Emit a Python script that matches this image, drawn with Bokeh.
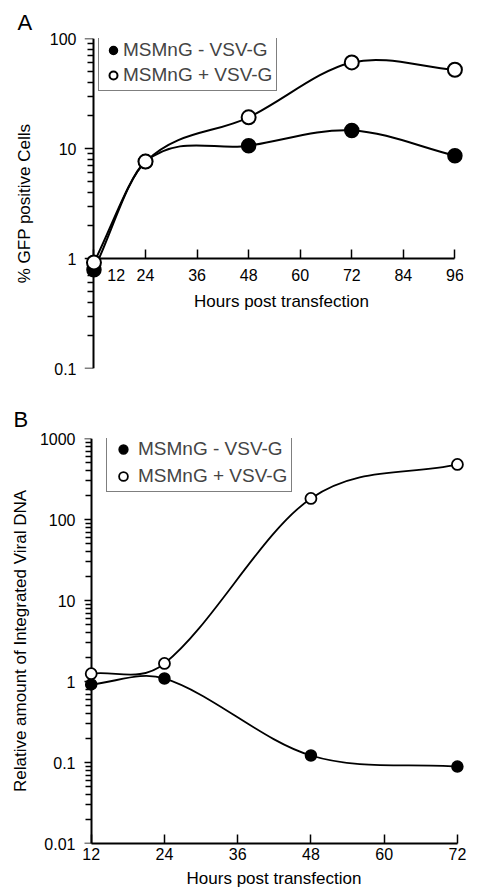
import numpy as np
from bokeh.plotting import figure
from bokeh.models import Range1d, FixedTicker, Legend, LegendItem, Label, LogAxis
from bokeh.layouts import column
from bokeh.embed import file_html
from bokeh.resources import INLINE

# ---------------- data ----------------
hours_A = [12, 24, 48, 72, 96]
gfp_minus = [0.79, 7.6, 10.6, 14.6, 8.6]
gfp_plus = [0.92, 7.6, 19.2, 60.6, 52.0]

hours_B = [12, 24, 48, 72]
dna_minus = [0.92, 1.09, 0.122, 0.089]
dna_plus = [1.25, 1.67, 182.0, 478.0]

series_labels = ["MSMnG - VSV-G", "MSMnG + VSV-G"]
x_ticks_A = [12, 24, 36, 48, 60, 72, 84, 96]
x_labels_A = ["12", "24", "36", "48", "60", "72", "84", "96"]
x_ticks_B = [12, 24, 36, 48, 60, 72]
x_labels_B = ["12", "24", "36", "48", "60", "72"]
y_ticks_A = [0.1, 1, 10, 100]
y_labels_A = ["0.1", "1", "10", "100"]
y_ticks_B = [0.01, 0.1, 1, 10, 100, 1000]
y_labels_B = ["0.01", "0.1", "1", "10", "100", "1000"]
x_title = "Hours post transfection"
y_title_A = "% GFP positive Cells"
y_title_B = "Relative amount of Integrated Viral DNA"
panel_letters = ["A", "B"]

FONT = "Liberation Sans"


def bezier_segments(xs, ys):
    """Smooth connecting curve (cubic Hermite in x / log10 y) as Bezier segments."""
    lx = np.asarray(xs, float)
    ly = np.log10(np.asarray(ys, float))
    n = len(lx)
    m = np.empty(n)
    m[0] = (ly[1] - ly[0]) / (lx[1] - lx[0])
    m[-1] = (ly[-1] - ly[-2]) / (lx[-1] - lx[-2])
    m[1:-1] = (ly[2:] - ly[:-2]) / (lx[2:] - lx[:-2])
    h = np.diff(lx)
    return dict(
        x0=lx[:-1], y0=np.asarray(ys[:-1], float),
        x1=lx[1:], y1=np.asarray(ys[1:], float),
        cx0=lx[:-1] + h / 3, cy0=10 ** (ly[:-1] + m[:-1] * h / 3),
        cx1=lx[1:] - h / 3, cy1=10 ** (ly[1:] - m[1:] * h / 3),
    )


def minor_log(lo_exp, hi_exp):
    return [m * 10.0 ** e for e in range(lo_exp, hi_exp) for m in range(2, 10)]


def style_axis(ax):
    ax.axis_line_width = 2
    ax.axis_line_color = "black"
    ax.major_tick_line_width = 1.5
    ax.minor_tick_line_width = 1.5
    ax.major_tick_line_color = "black"
    ax.minor_tick_line_color = "black"
    ax.major_label_text_font = FONT
    ax.major_label_text_font_size = "16px"
    ax.major_label_text_color = "black"
    ax.axis_label_text_font = FONT
    ax.axis_label_text_font_size = "17px"
    ax.axis_label_text_font_style = "normal"
    ax.axis_label_text_color = "black"


def style_common(p, letter, offset):
    p.outline_line_color = None
    p.xgrid.visible = False
    p.ygrid.visible = False
    p.background_fill_color = "white"
    p.border_fill_color = "white"
    style_axis(p.xaxis[0])
    style_axis(p.yaxis[0])
    p.title.text = letter
    p.title.align = "left"
    p.title.offset = offset
    p.title.text_font = FONT
    p.title.text_font_size = "22px"
    p.title.text_font_style = "normal"
    p.title.text_color = "black"


def setup_y(p, ticks, labels, lo_exp, hi_exp, title, at_x, standoff, title_standoff):
    # label-only axis on the left (texts)
    ya = p.yaxis[0]
    ya.ticker = FixedTicker(ticks=ticks, minor_ticks=minor_log(lo_exp, hi_exp))
    ya.major_label_overrides = dict(zip(ticks, labels))
    ya.axis_line_color = None
    ya.major_tick_line_color = None
    ya.minor_tick_line_color = None
    ya.major_tick_out = 0
    ya.major_tick_in = 0
    ya.minor_tick_out = 0
    ya.minor_tick_in = 0
    ya.major_label_standoff = standoff
    ya.axis_label = title
    ya.axis_label_standoff = title_standoff
    # line + ticks axis placed at the first hour
    tick_ax = LogAxis(ticker=FixedTicker(ticks=ticks, minor_ticks=minor_log(lo_exp, hi_exp)),
                      fixed_location=at_x, bounds=(ticks[0], ticks[-1]),
                      major_label_overrides={t: "" for t in ticks})
    style_axis(tick_ax)
    tick_ax.major_tick_in = 9
    tick_ax.major_tick_out = 0
    tick_ax.minor_tick_in = 6
    tick_ax.minor_tick_out = 0
    p.add_layout(tick_ax, "right")


# ---------------- panel A ----------------
pA = figure(width=501, height=396, y_axis_type="log",
            x_range=Range1d(9.8, 98), y_range=Range1d(0.1, 100),
            output_backend="svg", toolbar_location=None,
            min_border_left=80, min_border_right=38,
            min_border_top=38, min_border_bottom=28)
style_common(pA, panel_letters[0], -67)
pA.title.standoff = 7

xa = pA.xaxis[0]
xa.fixed_location = 1
xa.bounds = (12, 96)
xa.ticker = FixedTicker(ticks=x_ticks_A)
ov = dict(zip(x_ticks_A, x_labels_A))
ov[x_ticks_A[0]] = "\u2007" * 5 + x_labels_A[0]
xa.major_label_overrides = ov
xa.major_tick_in = 9
xa.major_tick_out = 0
xa.minor_tick_in = 0
xa.minor_tick_out = 0
xa.major_label_standoff = 8

# x-axis title of panel A sits just under the axis drawn at y = 1
pA.add_layout(Label(x=197, y=67, x_units="screen", y_units="screen", text=x_title,
                    text_font=FONT, text_font_size="17px", text_color="black",
                    text_align="center", text_baseline="middle"))

setup_y(pA, y_ticks_A, y_labels_A, -1, 2, y_title_A, hours_A[0], 8, 13)

pA.bezier(line_color="black", line_width=2, **bezier_segments(hours_A, gfp_minus))
pA.bezier(line_color="black", line_width=2, **bezier_segments(hours_A, gfp_plus))
rA1 = pA.scatter(hours_A, gfp_minus, size=14, marker="circle",
                 fill_color="black", line_color="black", line_width=1.5, level="overlay")
rA2 = pA.scatter(hours_A, gfp_plus, size=14, marker="circle",
                 fill_color="white", line_color="black", line_width=2, level="overlay")

legA = Legend(items=[LegendItem(label=series_labels[0], renderers=[rA1]),
                     LegendItem(label=series_labels[1], renderers=[rA2])],
              location=(14, 277), padding=4, spacing=3, margin=0,
              glyph_width=20, glyph_height=20, label_standoff=0,
              label_text_font=FONT, label_text_font_size="19px",
              border_line_color="black", border_line_width=1.5,
              background_fill_color="white", background_fill_alpha=1)
pA.add_layout(legA)

# ---------------- panel B ----------------
pB = figure(width=501, height=495, y_axis_type="log",
            x_range=Range1d(10.9, 73), y_range=Range1d(0.01, 1000),
            output_backend="svg", toolbar_location=None,
            min_border_left=84, min_border_right=3,
            min_border_top=42, min_border_bottom=48)
style_common(pB, panel_letters[1], -71)
pB.title.standoff = 14

xb = pB.xaxis[0]
xb.bounds = (12, 72)
xb.ticker = FixedTicker(ticks=x_ticks_B)
xb.major_label_overrides = dict(zip(x_ticks_B, x_labels_B))
xb.major_tick_in = 9
xb.major_tick_out = 0
xb.minor_tick_in = 0
xb.minor_tick_out = 0
xb.major_label_standoff = 4
xb.axis_label = x_title
xb.axis_label_standoff = 6

setup_y(pB, y_ticks_B, y_labels_B, -2, 3, y_title_B, hours_B[0], 9, 7)

pB.bezier(line_color="black", line_width=1.8, **bezier_segments(hours_B, dna_minus))
pB.bezier(line_color="black", line_width=1.8, **bezier_segments(hours_B, dna_plus))
rB1 = pB.scatter(hours_B, dna_minus, size=11, marker="circle",
                 fill_color="black", line_color="black", line_width=1.5, level="overlay")
rB2 = pB.scatter(hours_B, dna_plus, size=11, marker="circle",
                 fill_color="white", line_color="black", line_width=1.8, level="overlay")

legB = Legend(items=[LegendItem(label=series_labels[0], renderers=[rB1]),
                     LegendItem(label=series_labels[1], renderers=[rB2])],
              location=(22, 351), padding=4, spacing=5, margin=0,
              glyph_width=24, glyph_height=22, label_standoff=3,
              label_text_font=FONT, label_text_font_size="19px",
              border_line_color="black", border_line_width=1.5,
              background_fill_color="white", background_fill_alpha=1)
pB.add_layout(legB)

layout = column(pA, pB, spacing=0)
open("out.html", "w").write(file_html(layout, INLINE))
